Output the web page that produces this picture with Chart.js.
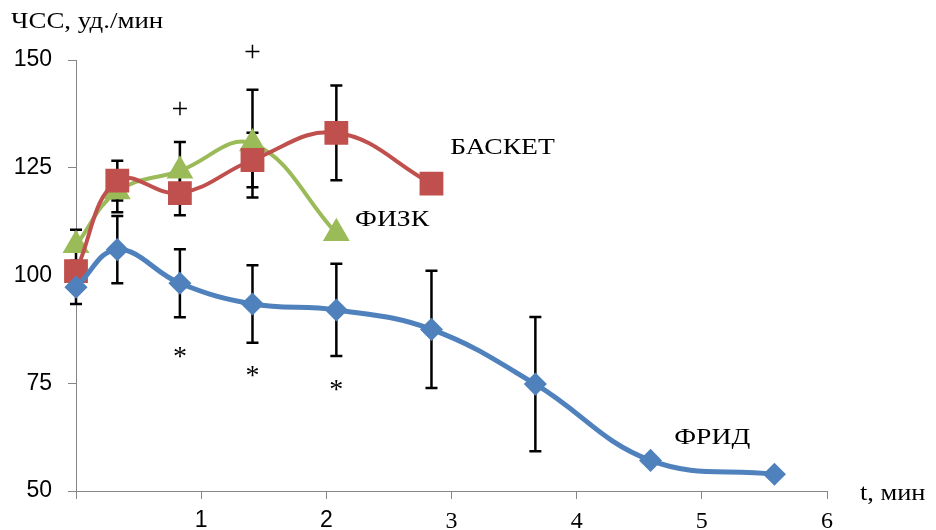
<!DOCTYPE html>
<html>
<head>
<meta charset="utf-8">
<script src="https://cdn.jsdelivr.net/npm/chart.js@4"></script>
<style>
  html, body { margin: 0; padding: 0; background: #fff; }
  #wrap { width: 936px; height: 530px; }
</style>
</head>
<body>
<div id="wrap"><canvas id="hrChart" width="936" height="530"></canvas></div>
<script>
// время, мин и ЧСС по группам
const timeFrid = [0, 0.33, 0.83, 1.41, 2.08, 2.84, 3.67, 4.59, 5.58];
const hrFrid = [97.3, 106, 98.2, 93.4, 92, 87.5, 74.8, 57.1, 53.9];
const errFrid = [3.9, 7.8, 7.9, 9, 10.7, 13.6, 15.6, 0, 0];

const timeBasket = [0, 0.33, 0.83, 1.41, 2.08, 2.84];
const hrBasket = [101, 122, 119.1, 126.8, 133.1, 121.3];
const errBasket = [0, 4.6, 5.1, 6.3, 11, 0];

const timeFizk = [0, 0.33, 0.83, 1.41, 2.08];
const hrFizk = [107, 119.5, 124.3, 130.6, 109.8];
const errFizk = [3.6, 4.8, 6.7, 12.5, 0];

const yTicks = [50, 75, 100, 125, 150];
const xTicks = [0, 1, 2, 3, 4, 5, 6];

// значки достоверности
const plusMarks = [{ x: 0.83, y: 138.4 }, { x: 1.41, y: 151.6 }];
const starMarks = [{ x: 0.83, y: 82.2 }, { x: 1.41, y: 77.6 }, { x: 2.08, y: 74.4 }];

// подписи серий
const seriesLabels = [
    { text: "БАСКЕТ", x: 2.99, y: 129.6 },
    { text: "ФИЗК", x: 2.23, y: 112.9 },
    { text: "ФРИД", x: 4.78, y: 62.3 }
];

function toPoints(xs, ys) {
    return xs.map((x, i) => ({ x: x, y: ys[i] }));
}

// текст, немного растянутый по горизонтали, как в исходнике
function wideText(ctx, text, x, y, stretch) {
    ctx.save();
    ctx.translate(x, y);
    ctx.scale(stretch, 1);
    ctx.fillText(text, 0, 0);
    ctx.restore();
}

const errorBars = {
    id: "errorBars",
    beforeDatasetsDraw(chart) {
        const ctx = chart.ctx;
        const xs = chart.scales.x, ys = chart.scales.y;
        const sets = [[timeFrid, hrFrid, errFrid], [timeBasket, hrBasket, errBasket], [timeFizk, hrFizk, errFizk]];
        ctx.save();
        ctx.strokeStyle = "#000";
        ctx.lineWidth = 2.5;
        sets.forEach(s => {
            s[0].forEach((t, i) => {
                const e = s[2][i];
                if (!e) return;
                const px = xs.getPixelForValue(t);
                const top = ys.getPixelForValue(s[1][i] + e);
                const bot = ys.getPixelForValue(s[1][i] - e);
                ctx.beginPath();
                ctx.moveTo(px, top); ctx.lineTo(px, bot);
                ctx.moveTo(px - 6, top); ctx.lineTo(px + 6, top);
                ctx.moveTo(px - 6, bot); ctx.lineTo(px + 6, bot);
                ctx.stroke();
            });
        });
        ctx.restore();
    }
};

const textLabels = {
    id: "textLabels",
    afterDraw(chart) {
        const ctx = chart.ctx;
        const xs = chart.scales.x, ys = chart.scales.y;
        ctx.save();
        ctx.fillStyle = "#000";
        ctx.textBaseline = "middle";
        ctx.font = "24px 'Liberation Serif'";
        ctx.textAlign = "left";
        seriesLabels.forEach(l => {
            wideText(ctx, l.text, xs.getPixelForValue(l.x), ys.getPixelForValue(l.y), 1.15);
        });
        wideText(ctx, "ЧСС, уд./мин", 11, 22, 1.12);
        wideText(ctx, "t, мин", 860, 494, 1.1);
        ctx.textAlign = "center";
        ctx.font = "30px 'Liberation Serif'";
        plusMarks.forEach(m => {
            ctx.fillText("+", xs.getPixelForValue(m.x), ys.getPixelForValue(m.y));
        });
        ctx.font = "28px 'Liberation Serif'";
        starMarks.forEach(m => {
            ctx.fillText("*", xs.getPixelForValue(m.x), ys.getPixelForValue(m.y) + 5);
        });
        ctx.restore();
    }
};

const ctx = document.getElementById("hrChart").getContext("2d");
new Chart(ctx, {
    type: "line",
    data: {
        datasets: [
            {
                label: "ФРИД",
                data: toPoints(timeFrid, hrFrid),
                borderColor: "#4F81BD",
                backgroundColor: "#4F81BD",
                borderWidth: 5,
                pointStyle: "rectRot",
                pointRadius: 8,
                tension: 0.4,
                clip: false
            },
            {
                label: "БАСКЕТ",
                data: toPoints(timeBasket, hrBasket),
                borderColor: "#C0504D",
                backgroundColor: "#C0504D",
                borderWidth: 4,
                pointStyle: "rect",
                pointRadius: 14,
                tension: 0.4,
                clip: false
            },
            {
                label: "ФИЗК",
                data: toPoints(timeFizk, hrFizk),
                borderColor: "#9BBB59",
                backgroundColor: "#9BBB59",
                borderWidth: 4,
                pointStyle: "triangle",
                pointRadius: 11.5,
                tension: 0.4,
                clip: false
            }
        ]
    },
    options: {
        responsive: false,
        animation: false,
        layout: { padding: { top: 60, right: 109, left: 0, bottom: 0 } },
        plugins: { legend: { display: false }, tooltip: { enabled: false } },
        scales: {
            x: {
                type: "linear",
                min: 0,
                max: 6,
                afterFit: s => { s.height = 39; },
                afterBuildTicks: s => { s.ticks = xTicks.map(v => ({ value: v })); },
                grid: { drawOnChartArea: false, color: "#868686", tickLength: 8 },
                border: { color: "#868686", width: 1 },
                ticks: {
                    color: "#000",
                    padding: 8,
                    maxRotation: 0,
                    callback: v => (v === 0 ? "" : String(v)),
                    font: c => (c.tick && c.tick.value >= 3
                        ? { family: "'Liberation Serif'", size: 24 }
                        : { family: "'Liberation Sans'", size: 23 })
                }
            },
            y: {
                min: 50,
                max: 150,
                afterFit: s => { s.width = 76; },
                afterBuildTicks: s => { s.ticks = yTicks.map(v => ({ value: v })); },
                grid: { drawOnChartArea: false, color: "#868686", tickLength: 8 },
                border: { color: "#868686", width: 1 },
                ticks: {
                    color: "#000",
                    padding: 16,
                    font: { family: "'Liberation Sans'", size: 23 }
                }
            }
        }
    },
    plugins: [errorBars, textLabels]
});
</script>
</body>
</html>
